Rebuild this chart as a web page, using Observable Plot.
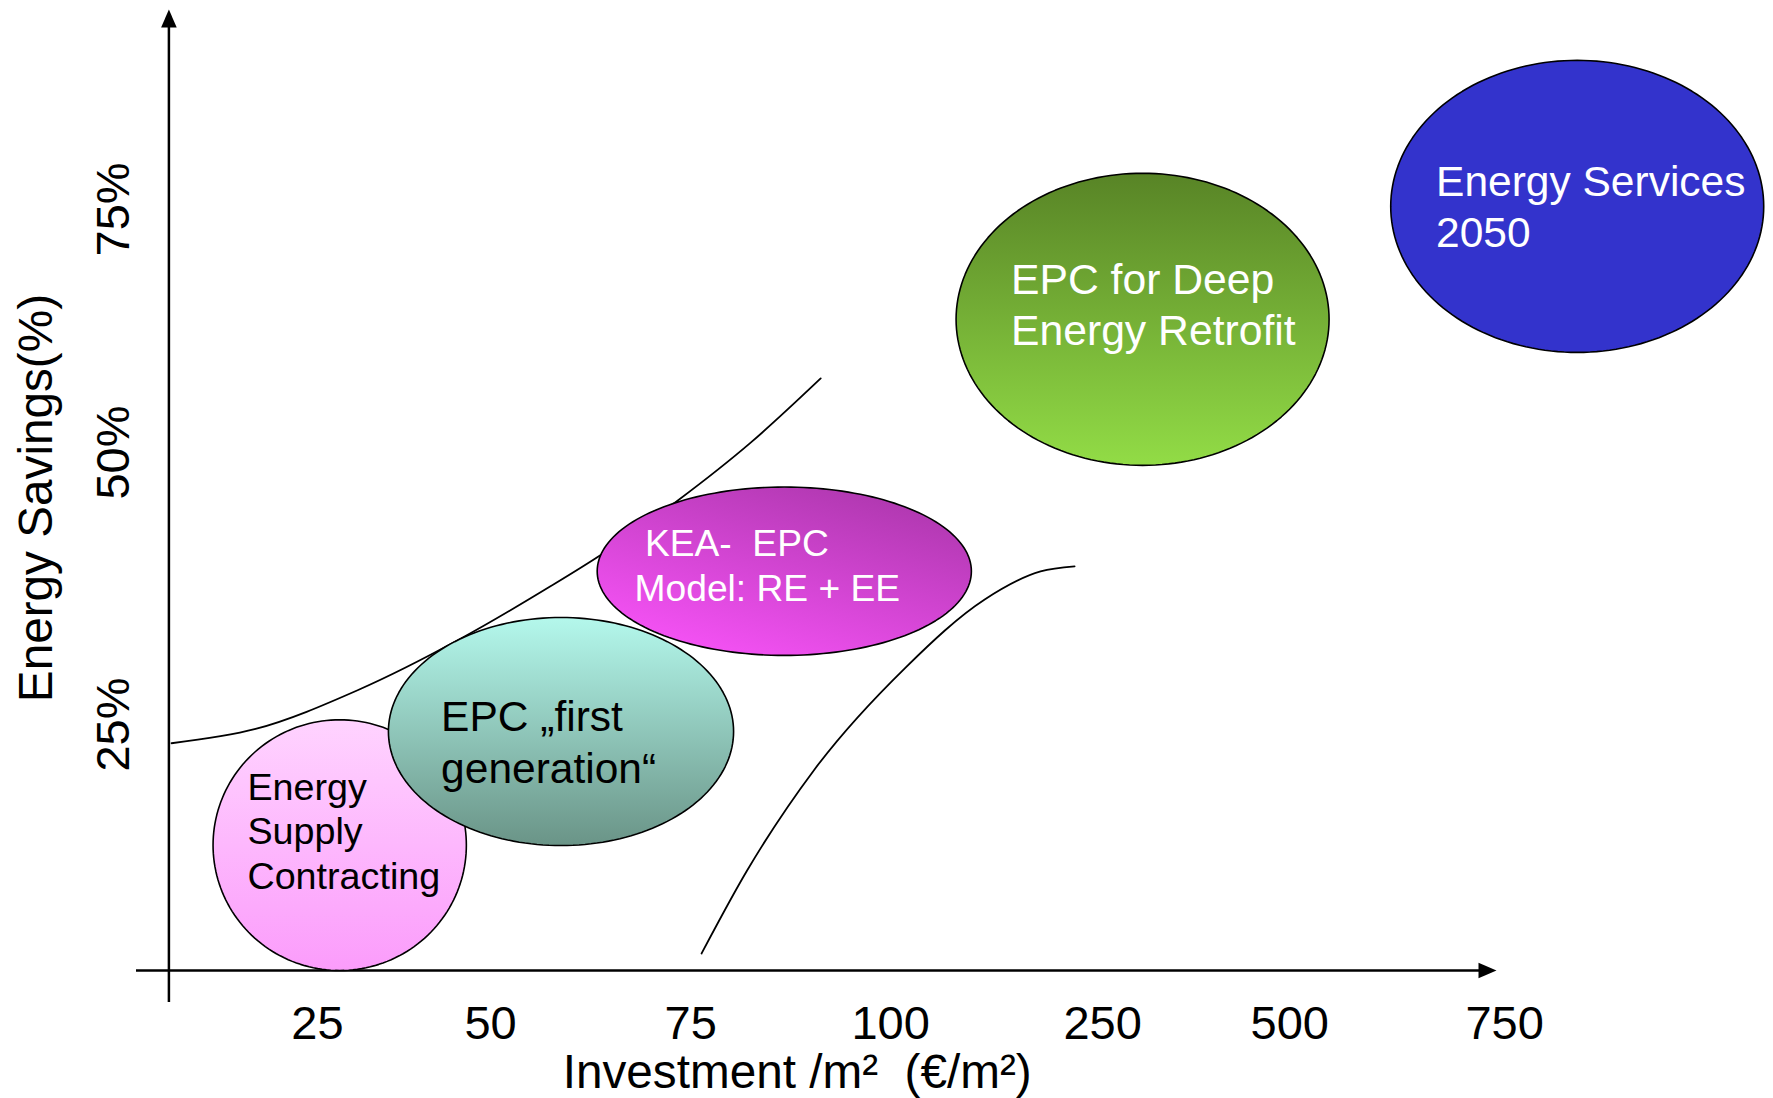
<!DOCTYPE html>
<html>
<head>
<meta charset="utf-8">
<script src="https://cdn.jsdelivr.net/npm/d3@7"></script>
<script src="https://cdn.jsdelivr.net/npm/@observablehq/plot@0.6"></script>
<style>
  html, body { margin: 0; padding: 0; background: #fff; }
  #chart svg text { white-space: pre; }
</style>
</head>
<body>
<div id="chart"></div>
<script>
// ---- data ----
const xTickLabels = ["25", "50", "75", "100", "250", "500", "750"];   // investment €/m² categories
const xTickAt     = [0.080, 0.951, 1.957, 2.963, 4.029, 4.970, 6.051]; // where each label sits on the category axis
const yTickLabels = ["25%", "50%", "75%"];                           // energy savings
const yTickAt     = [24.14, 50.83, 74.68];

const bubbleNames  = ["Energy Supply Contracting", "EPC first generation", "KEA-EPC Model", "EPC for Deep Energy Retrofit", "Energy Services 2050"];
const bubbleLabels = ["Energy\nSupply\nContracting", "EPC \u201Efirst\ngeneration\u201C", " KEA-  EPC\nModel: RE + EE", "EPC for Deep\nEnergy Retrofit", "Energy Services\n2050"];
const bubbleX      = [0.192, 1.305, 2.428, 4.230, 6.416];   // centre, investment category units
const bubbleY      = [12.3, 23.45, 39.18, 63.9, 74.98];     // centre, savings %
const bubbleXHalf  = [0.637, 0.868, 0.941, 0.938, 0.938];   // half extent, category units
const bubbleYHalf  = [12.3, 11.19, 8.26, 14.33, 14.33];     // half extent, savings %
const labelX       = [-0.272, 0.702, 1.675, 3.568, 5.706];
const labelY       = [13.80, 22.55, 39.86, 65.49, 75.12];

const upperCurveX = [-0.654, -0.231, 0.282, 0.795, 1.252, 1.499, 1.891, 2.259, 2.611];
const upperCurveY = [22.3, 23.7, 27.5, 32.5, 37.7, 40.7, 46.1, 51.8, 58.1];
const lowerCurveX = [2.012, 2.238, 2.580, 3.038, 3.436, 3.717, 3.888];
const lowerCurveY = [1.67, 9.71, 19.73, 29.73, 36.41, 39.16, 39.65];

// axis extents (data units)
const xDomain = [-0.83, 6.01];
const yDomain = [0, 94.3];
const yAxisAt = -0.667;
const yAxisBottom = -3.14;

// ---- styles ----
const FONT = "Liberation Sans, Arial, Helvetica, sans-serif";
const gradientStops = [
  {x1: 0, y1: 0, x2: 0, y2: 1, c0: "#ffd3ff", c1: "#fb9cfb"},
  {x1: 0, y1: 0, x2: 0, y2: 1, c0: "#b4f8ec", c1: "#6a9487"},
  {x1: 0.85, y1: 0, x2: 0.2, y2: 1, c0: "#ab36ab", c1: "#f853f8"},
  {x1: 0, y1: 0, x2: 0, y2: 1, c0: "#588426", c1: "#92dc46"},
  {x1: 0, y1: 0, x2: 0, y2: 1, c0: "#3333cc", c1: "#3333cc"}
];
const labelColor = ["#000", "#000", "#fff", "#fff", "#fff"];
const labelSize  = [37.7, 42.5, 37.2, 42.7, 42.5];
const labelLH    = [1.18, 1.22, 1.21, 1.19, 1.22];
const tickSize = 47;
const titleSize = 47.7;

// ---- helpers ----
function ellipsePoints(i) {
  const pts = [];
  const n = 180;
  for (let k = 0; k < n; k++) {
    const t = (k / n) * 2 * Math.PI;
    pts.push({x: bubbleX[i] + bubbleXHalf[i] * Math.cos(t), y: bubbleY[i] + bubbleYHalf[i] * Math.sin(t)});
  }
  return pts;
}
const upperCurve = upperCurveX.map((x, i) => ({x, y: upperCurveY[i]}));
const lowerCurve = lowerCurveX.map((x, i) => ({x, y: lowerCurveY[i]}));

const arrowUp = {
  draw(ctx, size) {
    const r = Math.sqrt(size / Math.PI);
    ctx.moveTo(0, 0); ctx.lineTo(-1.3 * r, 3 * r); ctx.lineTo(1.3 * r, 3 * r); ctx.closePath();
  }
};
const arrowRight = {
  draw(ctx, size) {
    const r = Math.sqrt(size / Math.PI);
    ctx.moveTo(0, 0); ctx.lineTo(-3 * r, -1.3 * r); ctx.lineTo(-3 * r, 1.3 * r); ctx.closePath();
  }
};

function defsMark() {
  const g = d3.create("svg:g");
  const defs = g.append("defs");
  gradientStops.forEach((s, i) => {
    const lg = defs.append("linearGradient").attr("id", "bubbleGrad" + i)
      .attr("x1", s.x1).attr("y1", s.y1).attr("x2", s.x2).attr("y2", s.y2);
    lg.append("stop").attr("offset", "0%").attr("stop-color", s.c0);
    lg.append("stop").attr("offset", "100%").attr("stop-color", s.c1);
  });
  return g.node();
}

const marks = [
  defsMark,
  // axes
  Plot.ruleY([0], {x1: xDomain[0], x2: xDomain[1] - 0.05, stroke: "black", strokeWidth: 2.5}),
  Plot.ruleX([yAxisAt], {y1: yAxisBottom, y2: yDomain[1] - 1, stroke: "black", strokeWidth: 2.5}),
  Plot.dot([0], {x: () => yAxisAt, y: () => yDomain[1], symbol: arrowUp, r: 6, fill: "black", stroke: "none"}),
  Plot.dot([0], {x: () => xDomain[1], y: () => 0, symbol: arrowRight, r: 6, fill: "black", stroke: "none"}),
  // tick labels
  Plot.text(xTickLabels, {x: (d, i) => xTickAt[i], y: () => 0, text: d => d, dy: 53, fontSize: tickSize, fill: "black", fontFamily: FONT, lineAnchor: "middle"}),
  Plot.text(yTickLabels, {x: () => yAxisAt, y: (d, i) => yTickAt[i], text: d => d, rotate: -90, dx: -54.5, fontSize: tickSize, fill: "black", fontFamily: FONT, lineAnchor: "middle"}),
  // titles
  Plot.text(["Investment /m\u00B2  (\u20AC/m\u00B2)"], {x: () => 2.493, y: () => 0, text: d => d, dy: 102, fontSize: titleSize, fill: "black", fontFamily: FONT, lineAnchor: "middle"}),
  Plot.text(["Energy Savings(%)"], {x: () => yAxisAt, y: () => 46.36, text: d => d, rotate: -90, dx: -132.5, fontSize: titleSize, fill: "black", fontFamily: FONT, lineAnchor: "middle"}),
  // curves
  Plot.line(upperCurve, {x: "x", y: "y", curve: "monotone-x", stroke: "black", strokeWidth: 1.8}),
  Plot.line(lowerCurve, {x: "x", y: "y", curve: "monotone-x", stroke: "black", strokeWidth: 1.8})
];

bubbleNames.forEach((name, i) => {
  marks.push(Plot.line(ellipsePoints(i), {x: "x", y: "y", curve: "linear-closed", fill: `url(#bubbleGrad${i})`, stroke: "black", strokeWidth: 1.6}));
  marks.push(Plot.text([bubbleLabels[i]], {
    x: () => labelX[i], y: () => labelY[i], text: d => d,
    textAnchor: "start", lineAnchor: "middle", lineHeight: labelLH[i],
    fontSize: labelSize[i], fill: labelColor[i], fontFamily: FONT
  }));
});

const chart = Plot.plot({
  width: 1773,
  height: 1098,
  marginLeft: 136,
  marginRight: 277,
  marginTop: 9,
  marginBottom: 128,
  x: {domain: xDomain, axis: null},
  y: {domain: yDomain, axis: null},
  style: {fontFamily: FONT, background: "white", overflow: "visible"},
  marks
});
document.getElementById("chart").appendChild(chart);
</script>
</body>
</html>
